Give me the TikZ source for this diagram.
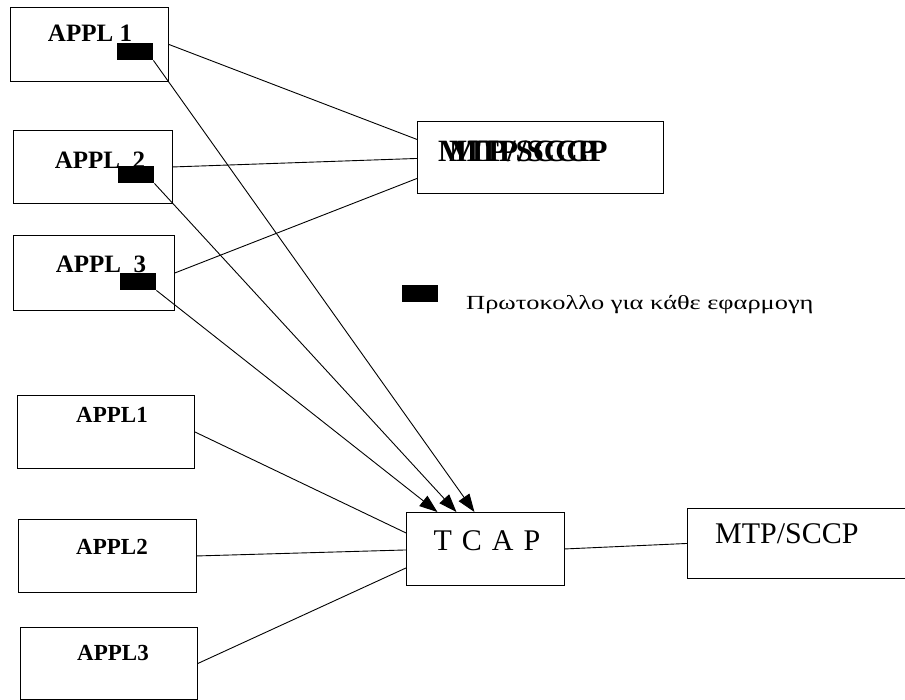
\documentclass[tikz,border=0pt]{standalone}
\usepackage{fontspec}
\setmainfont{Liberation Serif}
\usetikzlibrary{arrows.meta,calc}
\begin{document}
\begin{tikzpicture}[x=1pt,y=-1pt,
  box/.style={draw=black,line width=0.9pt,rectangle,inner sep=0pt,anchor=north west},
  sq/.style={fill=black,rectangle,inner sep=0pt,anchor=north west,minimum width=36,minimum height=17},
  line/.style={draw=black,line width=0.9pt},
  arr/.style={line,-{Triangle[length=18pt,width=13pt]}},
  apltop/.style={font=\fontsize{25}{25}\selectfont\bfseries,inner sep=0pt},
  aplbot/.style={font=\fontsize{23}{23}\selectfont\bfseries,inner sep=0pt},
  big/.style={font=\fontsize{30}{30}\selectfont,inner sep=0pt},
  bigbold/.style={font=\fontsize{31}{31}\selectfont\bfseries,inner sep=0pt,anchor=west}]
\useasboundingbox (0,0) rectangle (905,699);
\clip (0,0) rectangle (905,699);
\fill[white] (0,0) rectangle (905,699);

% application boxes with a per-application protocol block
\node[box,minimum width=158,minimum height=74] (a1) at (10,7) {};
\node[box,minimum width=159,minimum height=73] (a2) at (13,130) {};
\node[box,minimum width=161,minimum height=75] (a3) at (13,235) {};
\node[apltop] (ta1) at (90,33) {APPL 1};
\node[apltop] (ta2) at (100,160) {APPL\hspace{0.5em}2};
\node[apltop] (ta3) at (101,264) {APPL\hspace{0.5em}3};
\node[sq] (s1) at (117,43) {};
\node[sq] (s2) at (118,166) {};
\node[sq] (s3) at (120,273) {};

% shared MTP/SCCP (overprinted label)
\node[box,minimum width=246,minimum height=72] (mtp1) at (417,121) {};
\node[bigbold] (tm1) at (438,151) {MTP/SCCP};
\node[bigbold] (tm2) at (449,151) {MTP/SCCP};

% legend
\node[sq] (ls) at (402,285) {};
\node[font=\fontsize{20}{20}\selectfont,anchor=base west,inner sep=0pt] (lt) at (466,309)
  {\scalebox{1.32}[1]{Πρωτοκολλο για κάθε εφαρμογη}};

% lower applications, TCAP and MTP/SCCP
\node[box,minimum width=177,minimum height=73] (b1) at (17,395) {};
\node[box,minimum width=178,minimum height=73] (b2) at (18,519) {};
\node[box,minimum width=177,minimum height=72] (b3) at (20,627) {};
\node[aplbot] (tb1) at (112,415) {APPL1};
\node[aplbot] (tb2) at (112,547) {APPL2};
\node[aplbot] (tb3) at (113,653) {APPL3};

\node[box,minimum width=158,minimum height=73] (tcap) at (406,512) {};
\node[big] (tt) at (487,541) {T\,\,C\,\,A\,\,P};

\node[box,minimum width=240,minimum height=70] (mtp2) at (687,508) {};
\node[big,anchor=base west] (tm3) at (715,543) {MTP/SCCP};

% connectors to the shared MTP/SCCP
\draw[line] (a1.east) -- ($(mtp1.west)+(0,-18)$);
\draw[line] (a2.east) -- ($(mtp1.west)+(0,1)$);
\draw[line] (a3.east) -- ($(mtp1.west)+(0,21)$);

% protocol blocks down to TCAP
\draw[arr] (s1.south east) -- ($(tcap.north)+(-11,0)$);
\draw[arr] (s2.south east) -- ($(tcap.north)+(-29,0)$);
\draw[arr] (s3.south east) -- ($(tcap.north)+(-48,0)$);

% lower applications to TCAP
\draw[line] (b1.east) -- ($(tcap.west)+(0,-16)$);
\draw[line] (b2.east) -- ($(tcap.west)+(0,1)$);
\draw[line] (b3.east) -- ($(tcap.west)+(0,19)$);
\draw[line] (tcap.east) -- (mtp2.west);
\end{tikzpicture}
\end{document}
